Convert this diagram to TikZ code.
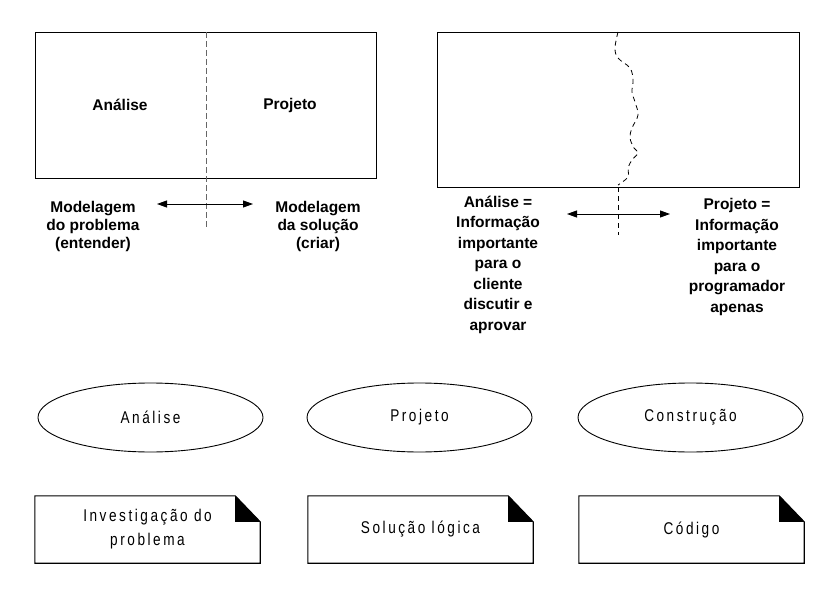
\documentclass[tikz,border=0pt]{standalone}
\usepackage{fontspec}
\setmainfont{Liberation Sans}
\newfontfamily\pixfont[LetterSpace=15,FakeStretch=0.8]{Liberation Sans}
\usetikzlibrary{arrows.meta,shapes.geometric}
\begin{document}
\begin{tikzpicture}[x=1pt,y=-1pt,
  frame/.style={draw=black, line width=1pt, rectangle, inner sep=0pt, anchor=north west},
  boldtxt/.style={font=\fontsize{15.5}{18}\selectfont\bfseries, align=center, inner sep=0pt},
  boldtxtb/.style={font=\fontsize{15.5}{20.5}\selectfont\bfseries, align=center, inner sep=0pt},
  twoarrow/.style={line width=0.9pt, {Triangle[length=10pt,width=7pt]}-{Triangle[length=10pt,width=7pt]}},
  phase/.style={draw=black, line width=0.9pt, ellipse, minimum width=225pt, minimum height=69pt, inner sep=0pt, font=\pixfont\fontsize{17}{20}\selectfont},
  docbox/.style={rectangle, minimum width=225pt, minimum height=67pt, inner sep=0pt, align=center, font=\pixfont\fontsize{17}{24}\selectfont},
]
\useasboundingbox (0,0) rectangle (832,591);

% ---------- top left ----------
\node[frame, minimum width=341pt, minimum height=146pt] (r1) at (35,32) {};
\coordinate (d1t) at (206,32);
\coordinate (d1b) at (206,227);
\draw[draw=black!60, line width=1pt, dash pattern=on 6pt off 3pt] (d1t) -- (d1b);
\node[boldtxt] (t1a) at (120,105) {Análise};
\node[boldtxt] (t1p) at (290,105) {Projeto};
\node[boldtxt] (t1l) at (93,226) {Modelagem\\do problema\\(entender)};
\node[boldtxt] (t1r) at (318,226) {Modelagem\\da solução\\(criar)};
\coordinate (a1l) at (157,204);
\coordinate (a1r) at (253,204);
\draw[twoarrow] (a1l) -- (a1r);

% ---------- top right ----------
\node[frame, minimum width=362pt, minimum height=155pt] (r2) at (437,32) {};
\draw[black, line width=0.8pt, dash pattern=on 5pt off 4pt]
  plot[smooth, tension=0.6] coordinates {(618,32) (615,48) (618,58) (630,68) (633,80) (632,92) (635,102) (638,115) (632,128) (630,138) (634,148) (638,153) (632,160) (628,168) (628,177) (618,185)};
\coordinate (d2t) at (618,187);
\coordinate (d2b) at (618,235);
\draw[black, line width=0.8pt, dash pattern=on 5pt off 4pt] (d2t) -- (d2b);
\coordinate (a2l) at (567,214);
\coordinate (a2r) at (670,214);
\draw[twoarrow] (a2l) -- (a2r);
\node[boldtxtb] (t2l) at (498,264.5) {Análise =\\Informação\\importante\\para o\\cliente\\discutir e\\aprovar};
\node[boldtxtb] (t2r) at (737,257) {Projeto =\\Informação\\importante\\para o\\programador\\apenas};

% ---------- ellipses ----------
\node[phase] (e1) at (150.5,417.5) {Análise};
\node[phase] (e2) at (419.5,417.5) {Projeto};
\node[phase] (e3) at (690.5,417.5) {Construção};

% ---------- documents ----------
\foreach \n/\cx/\t in {b1/147.5/{Investigação do\\problema}, b2/420.5/{Solução lógica}, b3/691.5/{Código}} {
  \node[docbox] (\n) at (\cx,529.5) {\t};
  \draw[line width=1.1pt, line join=miter]
    (\n.north west) -- ([xshift=-25pt]\n.north east) -- ([yshift=-26pt]\n.north east)
    -- (\n.south east) -- (\n.south west) -- cycle;
  \fill[black] ([xshift=-25pt]\n.north east) -- ([xshift=-25pt,yshift=-26pt]\n.north east) -- ([yshift=-26pt]\n.north east) -- cycle;
}
\end{tikzpicture}
\end{document}
